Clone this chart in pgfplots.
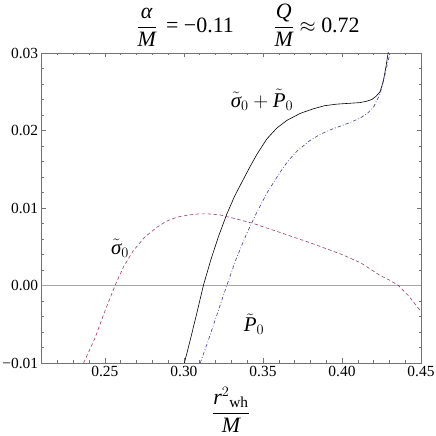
\documentclass[border=0pt]{standalone}
\usepackage{amsmath}
\usepackage{fontspec}
\setmainfont{Liberation Serif}
\usepackage{pgfplots}
\pgfplotsset{compat=1.18}
\newcommand{\ti}[1]{\text{\itshape #1}}
\definecolor{mred}{rgb}{0.6,0.24,0.442}
\definecolor{mblue}{rgb}{0.24,0.24,0.6}

\begin{document}
\begin{tikzpicture}
\begin{axis}[
    scale only axis,
    width=379.3bp, height=310bp,
    xmin=0.21, xmax=0.45,
    ymin=-0.01, ymax=0.03,
    xtick={0.25,0.30,0.35,0.40,0.45},
    xticklabels={0.25,0.30,0.35,0.40,0.45},
    ytick={-0.01,0,0.01,0.02,0.03},
    yticklabels={−0.01,0.00,0.01,0.02,0.03},
    minor xtick={0.21,0.22,0.23,0.24,0.26,0.27,0.28,0.29,0.31,0.32,0.33,0.34,0.36,0.37,0.38,0.39,0.41,0.42,0.43,0.44},
    minor ytick={-0.008,-0.006,-0.004,-0.002,0.002,0.004,0.006,0.008,0.012,0.014,0.016,0.018,0.022,0.024,0.026,0.028},
    scaled ticks=false,
    axis line style={black!55, line width=0.6bp},
    tick style={black!55, line width=0.5bp},
    major tick length=4.5bp, minor tick length=2.5bp,
    tick label style={font=\fontsize{15.5}{16}\selectfont, black},
]
% zero line
\addplot[black!35, line width=0.6bp] coordinates {(0.20,0) (0.46,0)};

% sigma_0 + P_0
\addplot[black, line width=0.6bp] coordinates {
    (0.3003,-0.0100) (0.3039,-0.0071) (0.3080,-0.0037) (0.3123,0.0000)
    (0.3170,0.0033) (0.3220,0.0064) (0.3271,0.0092) (0.3320,0.0115)
    (0.3376,0.0137) (0.3420,0.0154) (0.3461,0.0169) (0.3524,0.0189)
    (0.3587,0.0203) (0.3651,0.0213) (0.3735,0.0222) (0.3819,0.0228)
    (0.3890,0.0232) (0.3967,0.0234) (0.4040,0.02350) (0.4115,0.02360)
    (0.4160,0.0238) (0.4189,0.0240) (0.4215,0.0244) (0.4241,0.0250)
    (0.4262,0.0264) (0.4278,0.0282) (0.4292,0.0300) (0.4300,0.0312)
};

% P_0
\addplot[mblue, line width=0.6bp, dash pattern=on 3.5bp off 2bp on 0.8bp off 2bp] coordinates {
    (0.3103,-0.0100) (0.3154,-0.0071) (0.3210,-0.0037) (0.3271,0.0000)
    (0.3330,0.0034) (0.3397,0.0067) (0.3460,0.0094) (0.3530,0.0121)
    (0.3608,0.0146) (0.3660,0.0161) (0.3714,0.0173) (0.3790,0.0186)
    (0.3861,0.0195) (0.3940,0.0202) (0.4009,0.0207) (0.4060,0.0211)
    (0.4115,0.0216) (0.4160,0.0222) (0.4199,0.0230) (0.4241,0.0247)
    (0.4273,0.0273) (0.4304,0.0300) (0.4312,0.0310)
};

% sigma_0
\addplot[mred, line width=0.6bp, dash pattern=on 3.5bp off 2.5bp] coordinates {
    (0.2365,-0.0100) (0.2437,-0.0068) (0.2500,-0.0033) (0.2564,0.0000)
    (0.2620,0.0025) (0.2680,0.0045) (0.2750,0.0062) (0.2828,0.0075)
    (0.2890,0.0083) (0.2954,0.0088) (0.3030,0.0091) (0.3102,0.00925)
    (0.3160,0.00923) (0.3229,0.0091) (0.3330,0.0086) (0.3439,0.0080)
    (0.3600,0.0069) (0.3800,0.0055) (0.4000,0.0040) (0.4120,0.0029)
    (0.4241,0.0013) (0.4300,0.0007) (0.4357,0.0000) (0.4420,-0.0013)
    (0.4494,-0.0032) (0.4520,-0.0040)
};

\node[font=\fontsize{21}{24}\selectfont] at (axis cs:0.3494,0.0240)
    {$\tilde{\ti{σ}}_0+\tilde{\ti{P}}_0$};
\node[font=\fontsize{21}{24}\selectfont] at (axis cs:0.2596,0.0048)
    {$\tilde{\ti{σ}}_0$};
\node[font=\fontsize{21}{24}\selectfont] at (axis cs:0.3443,-0.0050)
    {$\tilde{\ti{P}}_0$};
\end{axis}

\node[font=\fontsize{22}{24}\selectfont] at ([xshift=206.3bp,yshift=28bp]current axis.north west)
    {$\dfrac{\ti{α}}{\ti{M}}$\, = −0.11\hspace{1.8em}$\dfrac{\ti{Q}}{\ti{M}}\approx$ 0.72};
\node[font=\fontsize{22}{26}\selectfont] at ([xshift=189.3bp,yshift=-47bp]current axis.south west)
    {$\dfrac{{\ti{r}^{2}}_{\text{wh}}}{\ti{M}}$};

\pgfresetboundingbox
\path[use as bounding box] ([xshift=-41.7bp,yshift=-73bp]current axis.south west)
    rectangle ([xshift=15bp,yshift=53bp]current axis.north east);
\end{tikzpicture}
\end{document}
